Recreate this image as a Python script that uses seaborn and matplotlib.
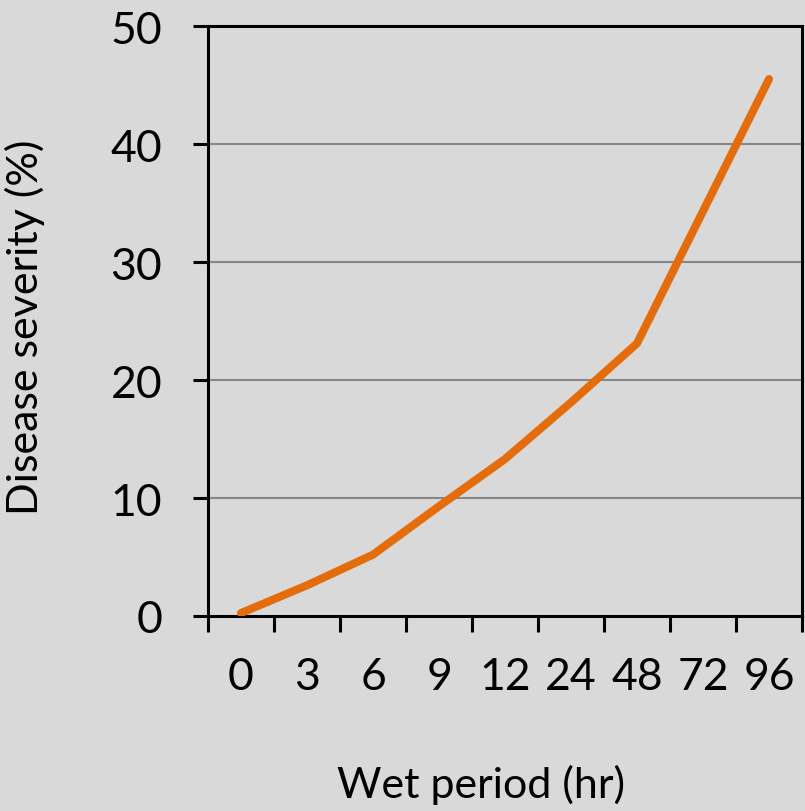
import matplotlib
matplotlib.use("Agg")
import matplotlib.pyplot as plt
import numpy as np
import pandas as pd
import seaborn as sns
from matplotlib.ticker import FixedLocator, NullFormatter

categories = ["0", "3", "6", "9", "12", "24", "48", "72", "96"]
severity = [0.25, 2.6, 5.2, 9.3, 13.3, 18.1, 23.1, 34.3, 45.5]
y_ticks = [0, 10, 20, 30, 40, 50]
x_label = "Wet period (hr)"
y_label = "Disease severity (%)"

sns.set_theme(style="white")
plt.rcParams["font.family"] = ["Lato", "DejaVu Sans"]

bg = "#d9d9d9"
fs = 32
df = pd.DataFrame({"pos": np.arange(len(categories)), "severity": severity})

fig = plt.figure(figsize=(8.05, 8.12), dpi=100, facecolor=bg)
ax = fig.add_axes([208 / 805, 1 - 617 / 812, 594 / 805, 590 / 812])
ax.set_facecolor(bg)

sns.lineplot(data=df, x="pos", y="severity", ax=ax, color="#E46C0A",
             linewidth=5.8, solid_capstyle="round", zorder=3)

ax.set_xlim(-0.5, len(categories) - 0.5)
ax.set_ylim(0, 50)
ax.set_yticks(y_ticks)
ax.set_yticklabels([str(t) for t in y_ticks])
ax.set_xticks(np.arange(len(categories)))
ax.set_xticklabels(categories)
ax.xaxis.set_minor_locator(FixedLocator(np.arange(len(categories) + 1) - 0.5))
ax.xaxis.set_minor_formatter(NullFormatter())

ax.tick_params(axis="x", which="major", length=0, pad=29, labelsize=fs, colors="black")
ax.tick_params(axis="x", which="minor", length=11.5, width=2.2, direction="out",
               color="black", bottom=True)
ax.tick_params(axis="y", which="major", length=11, width=2.2, direction="out",
               pad=22, labelsize=fs, colors="black", left=True)

for y in y_ticks[1:-1]:
    ax.axhline(y, color="#878787", linewidth=1.5, zorder=1)
ax.grid(False)

for s in ax.spines.values():
    s.set_visible(True)
    s.set_color("black")
    s.set_linewidth(2.2)

ax.set_xlabel(x_label, fontsize=31, color="black")
ax.set_ylabel(y_label, fontsize=31, color="black")
ax.xaxis.set_label_coords((481 - 208) / 594, (617 - 785) / 590)
ax.xaxis.label.set_va("center")
ax.xaxis.label.set_ha("center")
ax.yaxis.set_label_coords((25 - 208) / 594, (617 - 327) / 590)
ax.yaxis.label.set_va("center")
ax.yaxis.label.set_ha("center")

fig.savefig("out.png", dpi=100, facecolor=bg)
